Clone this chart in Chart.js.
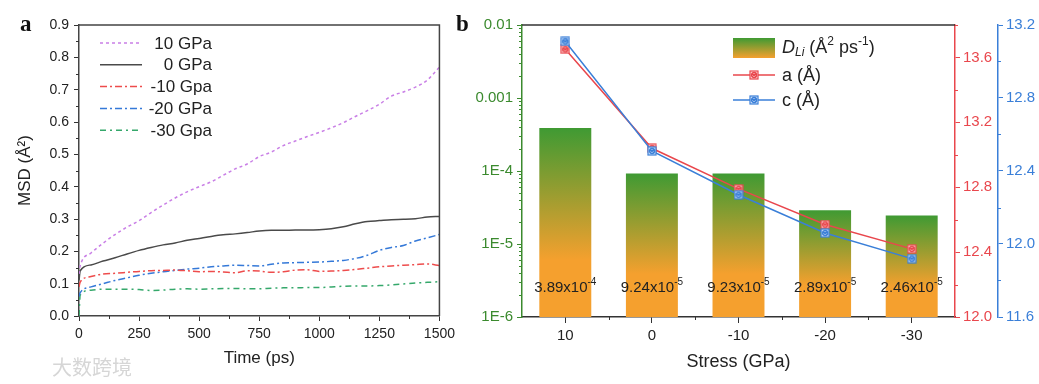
<!DOCTYPE html>
<html>
<head>
<meta charset="utf-8">
<script src="https://cdn.jsdelivr.net/npm/chart.js@4.4.0/dist/chart.umd.min.js"></script>
<style>
body{margin:0;background:#fff;width:1039px;height:384px;overflow:hidden;position:relative;font-family:'Liberation Sans',Arial,sans-serif}
#boxA{position:absolute;left:0;top:0;width:460px;height:384px}
#boxB{position:absolute;left:460px;top:0;width:579px;height:384px}
.tag{position:absolute;top:12px;font:bold 23px/23px 'Liberation Serif','Times New Roman',serif;color:#111}
.mark{position:absolute;left:52px;top:352px;font:20px 'Noto Sans CJK SC',sans-serif;color:#d6d6d6}
</style>
</head>
<body>
<div id="boxA"><canvas id="chartA"></canvas></div>
<div id="boxB"><canvas id="chartB"></canvas></div>
<div class="tag" style="left:20px">a</div>
<div class="tag" style="left:456px">b</div>
<div class="mark">大数跨境</div>
<script>
// panel a : MSD vs time
const timePs = [0,5,50,100,150,200,250,300,350,400,450,500,550,600,650,700,750,800,850,900,950,1000,1050,1100,1150,1200,1250,1300,1350,1400,1450,1500];
const msd10 = [0.13,0.155,0.195,0.225,0.252,0.275,0.295,0.32,0.343,0.365,0.384,0.40,0.415,0.435,0.455,0.47,0.493,0.507,0.527,0.541,0.555,0.568,0.582,0.598,0.617,0.635,0.655,0.68,0.693,0.708,0.73,0.77];
const msd0 = [0.11,0.14,0.158,0.17,0.18,0.192,0.203,0.212,0.22,0.226,0.234,0.24,0.246,0.251,0.254,0.258,0.263,0.265,0.265,0.266,0.266,0.267,0.27,0.276,0.285,0.292,0.295,0.298,0.299,0.301,0.306,0.308];
const msdM10 = [0.09,0.105,0.122,0.13,0.132,0.135,0.138,0.14,0.141,0.142,0.14,0.137,0.138,0.136,0.134,0.14,0.139,0.135,0.137,0.142,0.143,0.138,0.139,0.141,0.144,0.148,0.152,0.155,0.157,0.159,0.161,0.156];
const msdM20 = [0.06,0.072,0.09,0.1,0.11,0.118,0.126,0.132,0.137,0.141,0.145,0.148,0.152,0.155,0.157,0.156,0.155,0.16,0.164,0.165,0.166,0.167,0.169,0.172,0.178,0.188,0.203,0.212,0.218,0.232,0.242,0.252];
const msdM30 = [0.0,0.065,0.08,0.083,0.083,0.083,0.082,0.079,0.08,0.083,0.084,0.083,0.084,0.085,0.085,0.084,0.084,0.086,0.087,0.087,0.088,0.088,0.09,0.092,0.093,0.093,0.094,0.096,0.099,0.102,0.104,0.106];
const seriesNames = ['10 GPa',' 0 GPa','-10 Gpa','-20 GPa','-30 Gpa'];

// panel b : diffusion + lattice constants vs stress
const stressLabels = ['10','0','-10','-20','-30'];
const dLi = [3.89e-4, 9.24e-5, 9.23e-5, 2.89e-5, 2.46e-5];
const latticeA = [13.65, 13.04, 12.79, 12.57, 12.42];
const latticeC = [13.11, 12.51, 12.27, 12.06, 11.92];
const logTickVals = [1e-6, 1e-5, 1e-4, 1e-3, 1e-2];
const logTickLabels = ['1E-6', '1E-5', '1E-4', '0.001', '0.01'];
const aTicks = [12.0, 12.4, 12.8, 13.2, 13.6];
const cTicks = [11.6, 12.0, 12.4, 12.8, 13.2];

const FONT = "'Liberation Sans', Arial, sans-serif";
Chart.defaults.font.family = FONT;
Chart.defaults.color = '#222';

const GREEN = '#3f9a33', ORANGE = '#f5a02e';
const RED = '#e9474d', BLUE = '#3a7fd8', AXG = '#3b8a2e';

function toPts(arr) {
  return arr.map(function(v, i) { return {x: timePs[i], y: v}; });
}

// small minor ticks, placed through each scale
const minorTicks = {
  id: 'minorTicks',
  afterDraw(chart, args, opts) {
    const ctx = chart.ctx;
    (opts.list || []).forEach(function(m) {
      const s = chart.scales[m.scale];
      ctx.save();
      ctx.strokeStyle = m.color;
      ctx.lineWidth = 1;
      m.values.forEach(function(v) {
        const p = Math.round(s.getPixelForValue(v)) + 0.5;
        ctx.beginPath();
        if (s.position === 'bottom') { ctx.moveTo(p, s.top); ctx.lineTo(p, s.top + m.len); }
        else if (s.position === 'left') { ctx.moveTo(s.right, p); ctx.lineTo(s.right - m.len, p); }
        else { ctx.moveTo(s.left, p); ctx.lineTo(s.left + m.len, p); }
        ctx.stroke();
      });
      ctx.restore();
    });
  }
};

const frame = {
  id: 'frame',
  afterDraw(chart, args, opts) {
    const a = chart.chartArea, ctx = chart.ctx;
    ctx.save();
    ctx.strokeStyle = opts.color;
    ctx.lineWidth = 1.5;
    ctx.beginPath();
    ctx.moveTo(a.left, a.top);
    ctx.lineTo(a.right, a.top);
    if (opts.right) ctx.lineTo(a.right, a.bottom);
    ctx.stroke();
    ctx.restore();
  }
};

function drawRuns(ctx, x, y, runs, align) {
  let w = 0;
  runs.forEach(function(r) { ctx.font = r.font; w += ctx.measureText(r.t).width; });
  let cx = align === 'center' ? x - w / 2 : x;
  ctx.textAlign = 'left';
  ctx.textBaseline = 'middle';
  runs.forEach(function(r) {
    ctx.font = r.font;
    ctx.fillText(r.t, cx, y + (r.dy || 0));
    cx += ctx.measureText(r.t).width;
  });
}

// ---------- panel a ----------
const lineStyles = [
  {data: msd10, color: '#c97fe6', dash: [3, 3]},
  {data: msd0, color: '#4a4a4a', dash: []},
  {data: msdM10, color: '#ee4c4c', dash: [7, 3, 2, 3]},
  {data: msdM20, color: '#3579d8', dash: [7, 3, 2, 3]},
  {data: msdM30, color: '#35a86b', dash: [6, 4, 2, 4]}
];

const legendA = {
  id: 'legendA',
  afterDraw(chart) {
    const ctx = chart.ctx;
    ctx.save();
    lineStyles.forEach(function(s, i) {
      const y = 43 + i * 21.8;
      ctx.strokeStyle = s.color;
      ctx.lineWidth = 1.5;
      ctx.setLineDash(s.dash);
      ctx.beginPath();
      ctx.moveTo(100, y);
      ctx.lineTo(142, y);
      ctx.stroke();
      ctx.setLineDash([]);
      ctx.fillStyle = '#222';
      ctx.font = '17px ' + FONT;
      ctx.textAlign = 'right';
      ctx.textBaseline = 'middle';
      ctx.fillText(seriesNames[i], 212, y + 1);
    });
    ctx.restore();
  }
};

const minorX = [], minorY = [];
for (let t = 125; t < 1500; t += 250) minorX.push(t);
for (let v = 0.05; v < 0.9; v += 0.1) minorY.push(v);

new Chart(document.getElementById('chartA'), {
  type: 'line',
  data: {
    datasets: lineStyles.map(function(s, i) {
      return {
        label: seriesNames[i],
        data: toPts(s.data),
        borderColor: s.color,
        borderDash: s.dash,
        borderWidth: 1.5,
        pointRadius: 0,
        cubicInterpolationMode: 'monotone'
      };
    })
  },
  options: {
    responsive: true,
    maintainAspectRatio: false,
    animation: false,
    layout: {padding: {top: 25, right: 19}},
    plugins: {
      legend: {display: false},
      tooltip: {enabled: false},
      minorTicks: {list: [
        {scale: 'x', values: minorX, len: 3, color: '#333'},
        {scale: 'y', values: minorY, len: 3, color: '#333'}
      ]},
      frame: {color: '#444', right: true}
    },
    scales: {
      x: {
        type: 'linear', min: 0, max: 1500,
        ticks: {stepSize: 250, padding: 5, maxRotation: 0, font: {size: 14}, color: '#222', callback: function(v) { return String(v); }},
        grid: {drawOnChartArea: false, tickLength: 5, color: '#333'},
        border: {color: '#444', width: 1.5},
        title: {display: true, text: 'Time (ps)', font: {size: 17}, color: '#222', padding: {top: 4, bottom: 15}},
        afterFit: function(s) { s.height = 68; }
      },
      y: {
        min: 0, max: 0.9,
        ticks: {stepSize: 0.1, padding: 5, font: {size: 14}, color: '#222', callback: function(v) { return v.toFixed(1); }},
        grid: {drawOnChartArea: false, tickLength: 5, color: '#333'},
        border: {color: '#444', width: 1.5},
        title: {display: true, text: 'MSD (Å²)', font: {size: 17}, color: '#222', padding: {top: 15, bottom: 0}},
        afterFit: function(s) { s.width = 79; }
      }
    }
  },
  plugins: [minorTicks, frame, legendA]
});

// ---------- panel b ----------
function makeMarker(stroke, fill) {
  const c = document.createElement('canvas');
  c.width = 10; c.height = 10;
  const g = c.getContext('2d');
  g.fillStyle = fill;
  g.fillRect(1, 1, 8, 8);
  g.strokeStyle = stroke;
  g.lineWidth = 1.2;
  g.strokeRect(1, 1, 8, 8);
  g.beginPath();
  g.arc(5, 5, 2.6, 0, Math.PI * 2);
  g.moveTo(3, 3); g.lineTo(7, 7);
  g.moveTo(7, 3); g.lineTo(3, 7);
  g.stroke();
  return c;
}
const markA = makeMarker(RED, '#fbd6d6');
const markC = makeMarker(BLUE, '#d3e3fa');

function barFill(ctx) {
  const chart = ctx.chart, area = chart.chartArea;
  if (!area || ctx.raw === undefined) return ORANGE;
  const top = chart.scales.y.getPixelForValue(ctx.raw);
  const bottom = area.bottom;
  const g = chart.ctx.createLinearGradient(0, top, 0, bottom);
  g.addColorStop(0, GREEN);
  g.addColorStop(0.7, ORANGE);
  g.addColorStop(1, ORANGE);
  return g;
}

const barLabels = {
  id: 'barLabels',
  afterDatasetsDraw(chart) {
    const meta = chart.getDatasetMeta(2);
    const ctx = chart.ctx;
    const y = chart.scales.y.getPixelForValue(2.5e-6);
    ctx.save();
    ctx.fillStyle = '#222';
    meta.data.forEach(function(el, i) {
      const parts = dLi[i].toExponential(2).split('e');
      drawRuns(ctx, el.x, y, [
        {t: parts[0] + 'x10', font: '15px ' + FONT},
        {t: String(parseInt(parts[1], 10)), font: '10px ' + FONT, dy: -6}
      ], 'center');
    });
    ctx.restore();
  }
};

const legendB = {
  id: 'legendB',
  afterDraw(chart) {
    const ctx = chart.ctx;
    const x0 = 273, x1 = 315, tx = 322;
    ctx.save();
    const g = ctx.createLinearGradient(0, 38, 0, 58);
    g.addColorStop(0, GREEN);
    g.addColorStop(1, ORANGE);
    ctx.fillStyle = g;
    ctx.fillRect(x0, 38, x1 - x0, 20);
    ctx.fillStyle = '#222';
    const f = '18px ' + FONT, fi = 'italic 18px ' + FONT, fs = '12px ' + FONT, fsi = 'italic 12px ' + FONT;
    drawRuns(ctx, tx, 48, [
      {t: 'D', font: fi}, {t: 'Li', font: fsi, dy: 5}, {t: ' (Å', font: f},
      {t: '2', font: fs, dy: -6}, {t: ' ps', font: f}, {t: '-1', font: fs, dy: -6}, {t: ')', font: f}
    ]);
    [[RED, markA, 'a (Å)', 75], [BLUE, markC, 'c (Å)', 100]].forEach(function(r) {
      ctx.strokeStyle = r[0];
      ctx.lineWidth = 1.5;
      ctx.beginPath();
      ctx.moveTo(x0, r[3]);
      ctx.lineTo(x1, r[3]);
      ctx.stroke();
      ctx.drawImage(r[1], (x0 + x1) / 2 - 5, r[3] - 5);
      ctx.fillStyle = '#222';
      drawRuns(ctx, tx, r[3] + 1, [{t: r[2], font: f}]);
    });
    ctx.restore();
  }
};

const logMinor = [];
for (let e = -6; e < -2; e++) for (let d = 2; d <= 9; d++) logMinor.push(d * Math.pow(10, e));

new Chart(document.getElementById('chartB'), {
  type: 'bar',
  data: {
    labels: stressLabels,
    datasets: [
      {type: 'line', label: 'c (Å)', data: latticeC, yAxisID: 'yC', borderColor: BLUE, borderWidth: 1.5,
       pointStyle: markC, pointRadius: 5, order: 0},
      {type: 'line', label: 'a (Å)', data: latticeA, yAxisID: 'yA', borderColor: RED, borderWidth: 1.5,
       pointStyle: markA, pointRadius: 5, order: 1},
      {type: 'bar', label: 'D_Li', data: dLi, yAxisID: 'y', backgroundColor: barFill,
       barPercentage: 0.6, categoryPercentage: 1.0, order: 2}
    ]
  },
  options: {
    responsive: true,
    maintainAspectRatio: false,
    animation: false,
    layout: {padding: {top: 25, right: 0}},
    plugins: {
      legend: {display: false},
      tooltip: {enabled: false},
      minorTicks: {list: [
        {scale: 'x', values: [0.5, 1.5, 2.5, 3.5], len: 3, color: '#333'},
        {scale: 'y', values: logMinor, len: 3, color: AXG},
        {scale: 'yA', values: [12.2, 12.6, 13.0, 13.4, 13.8], len: 3, color: RED},
        {scale: 'yC', values: [11.8, 12.2, 12.6, 13.0], len: 3, color: BLUE}
      ]},
      frame: {color: '#333', right: false}
    },
    scales: {
      x: {
        type: 'category', offset: true,
        ticks: {padding: 4, font: {size: 15}, color: '#222'},
        grid: {offset: false, drawOnChartArea: false, tickLength: 6, color: '#333'},
        border: {color: '#333', width: 1.5},
        title: {display: true, text: 'Stress (GPa)', font: {size: 18}, color: '#222', padding: {top: 4, bottom: 11}},
        afterFit: function(s) { s.height = 67; }
      },
      y: {
        type: 'logarithmic', position: 'left', min: 1e-6, max: 1e-2,
        afterBuildTicks: function(s) { s.ticks = logTickVals.map(function(v) { return {value: v}; }); },
        ticks: {padding: 4, font: {size: 15}, color: AXG, callback: function(v, i) { return logTickLabels[i]; }},
        grid: {drawOnChartArea: false, tickLength: 5, color: AXG},
        border: {color: AXG, width: 1.5},
        afterFit: function(s) { s.width = 62; }
      },
      yA: {
        type: 'linear', position: 'right', min: 12.0, max: 13.8,
        afterBuildTicks: function(s) { s.ticks = aTicks.map(function(v) { return {value: v}; }); },
        ticks: {padding: 3, font: {size: 15}, color: RED, callback: function(v) { return v.toFixed(1); }},
        grid: {drawOnChartArea: false, tickLength: 5, color: RED},
        border: {color: RED, width: 1.5},
        afterFit: function(s) { s.width = 43; }
      },
      yC: {
        type: 'linear', position: 'right', min: 11.6, max: 13.2,
        afterBuildTicks: function(s) { s.ticks = cTicks.map(function(v) { return {value: v}; }); },
        ticks: {padding: 3, font: {size: 15}, color: BLUE, callback: function(v) { return v.toFixed(1); }},
        grid: {drawOnChartArea: false, tickLength: 5, color: BLUE},
        border: {color: BLUE, width: 1.5},
        afterFit: function(s) { s.width = 41; }
      }
    }
  },
  plugins: [minorTicks, frame, barLabels, legendB]
});
</script>
</body>
</html>
